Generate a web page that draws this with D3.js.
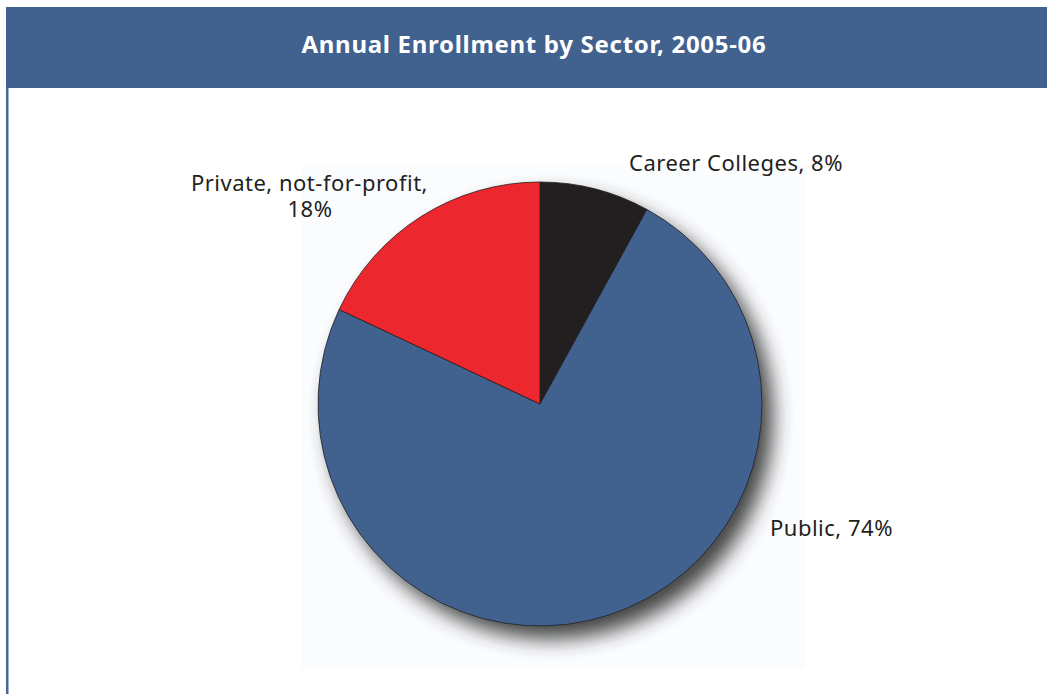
<!DOCTYPE html>
<html>
<head>
<meta charset="utf-8">
<script src="https://cdn.jsdelivr.net/npm/d3@7/dist/d3.min.js"></script>
<style>
  html, body { margin: 0; padding: 0; background: #ffffff; }
  svg { display: block; }
</style>
</head>
<body>
<svg id="chart" width="1047" height="694"></svg>
<script>
// Enrollment shares by sector, 2005-06 (percent)
const sectors = ["Career Colleges", "Public", "Private, not-for-profit"];
const shares = [8, 74, 18];
const sliceColors = ["#231f20", "#41618f", "#ec282e"];
const labelLines = [["Career Colleges, 8%"], ["Public, 74%"], ["Private, not-for-profit,", "18%"]];
const title = "Annual Enrollment by Sector, 2005-06";

const svg = d3.select("#chart");
const W = 1047, H = 694;
const font = "'Noto Sans', 'Open Sans', sans-serif";

// header band and left rule
svg.append("rect").attr("x", 6).attr("y", 7).attr("width", W - 6).attr("height", 81).attr("fill", "#41618f");
svg.append("rect").attr("x", 6).attr("y", 88).attr("width", 2.5).attr("height", H - 88).attr("fill", "#4a6896");
svg.append("text")
  .attr("x", 534).attr("y", 53)
  .attr("text-anchor", "middle")
  .attr("fill", "#ffffff")
  .attr("font-family", font)
  .attr("font-weight", "bold")
  .attr("font-size", 24)
  .attr("letter-spacing", 0.7)
  .text(title);

// faint plot panel
svg.append("rect").attr("x", 302).attr("y", 165).attr("width", 504).attr("height", 505).attr("fill", "#fbfcfe");

const cx = 540, cy = 404, r = 222;
const defs = svg.append("defs");
const f = defs.append("filter").attr("id", "shadow").attr("x", "-20%").attr("y", "-20%").attr("width", "140%").attr("height", "140%");
f.append("feGaussianBlur").attr("stdDeviation", 10);

const pie = d3.pie().sort(null).value(d => d)(shares);
const arc = d3.arc().innerRadius(0).outerRadius(r);

const g = svg.append("g").attr("transform", `translate(${cx},${cy})`);

// drop shadow
g.append("circle").attr("cx", 11).attr("cy", 13).attr("r", r).attr("fill", "#333333").attr("opacity", 0.9).attr("filter", "url(#shadow)");

g.selectAll("path.slice")
  .data(pie)
  .join("path")
  .attr("class", "slice")
  .attr("d", arc)
  .attr("fill", (d, i) => sliceColors[i])
  .attr("stroke", "#231f20")
  .attr("stroke-width", 0.8);

// labels
const labelPos = [
  { x: 629, y: 171, anchor: "start" },
  { x: 770, y: 536, anchor: "start" },
  { x: 428, y: 191, anchor: "end" }
];
labelLines.forEach((lines, i) => {
  const p = labelPos[i];
  const t = svg.append("text")
    .attr("font-family", font)
    .attr("font-size", 22)
    .attr("letter-spacing", 0.5)
    .attr("fill", "#231f20")
    .attr("text-anchor", p.anchor);
  lines.forEach((ln, j) => {
    t.append("tspan")
      .attr("x", j === 0 ? p.x : 310)
      .attr("y", p.y + j * 25.5)
      .attr("text-anchor", j === 0 ? p.anchor : "middle")
      .text(ln);
  });
});
</script>
</body>
</html>
